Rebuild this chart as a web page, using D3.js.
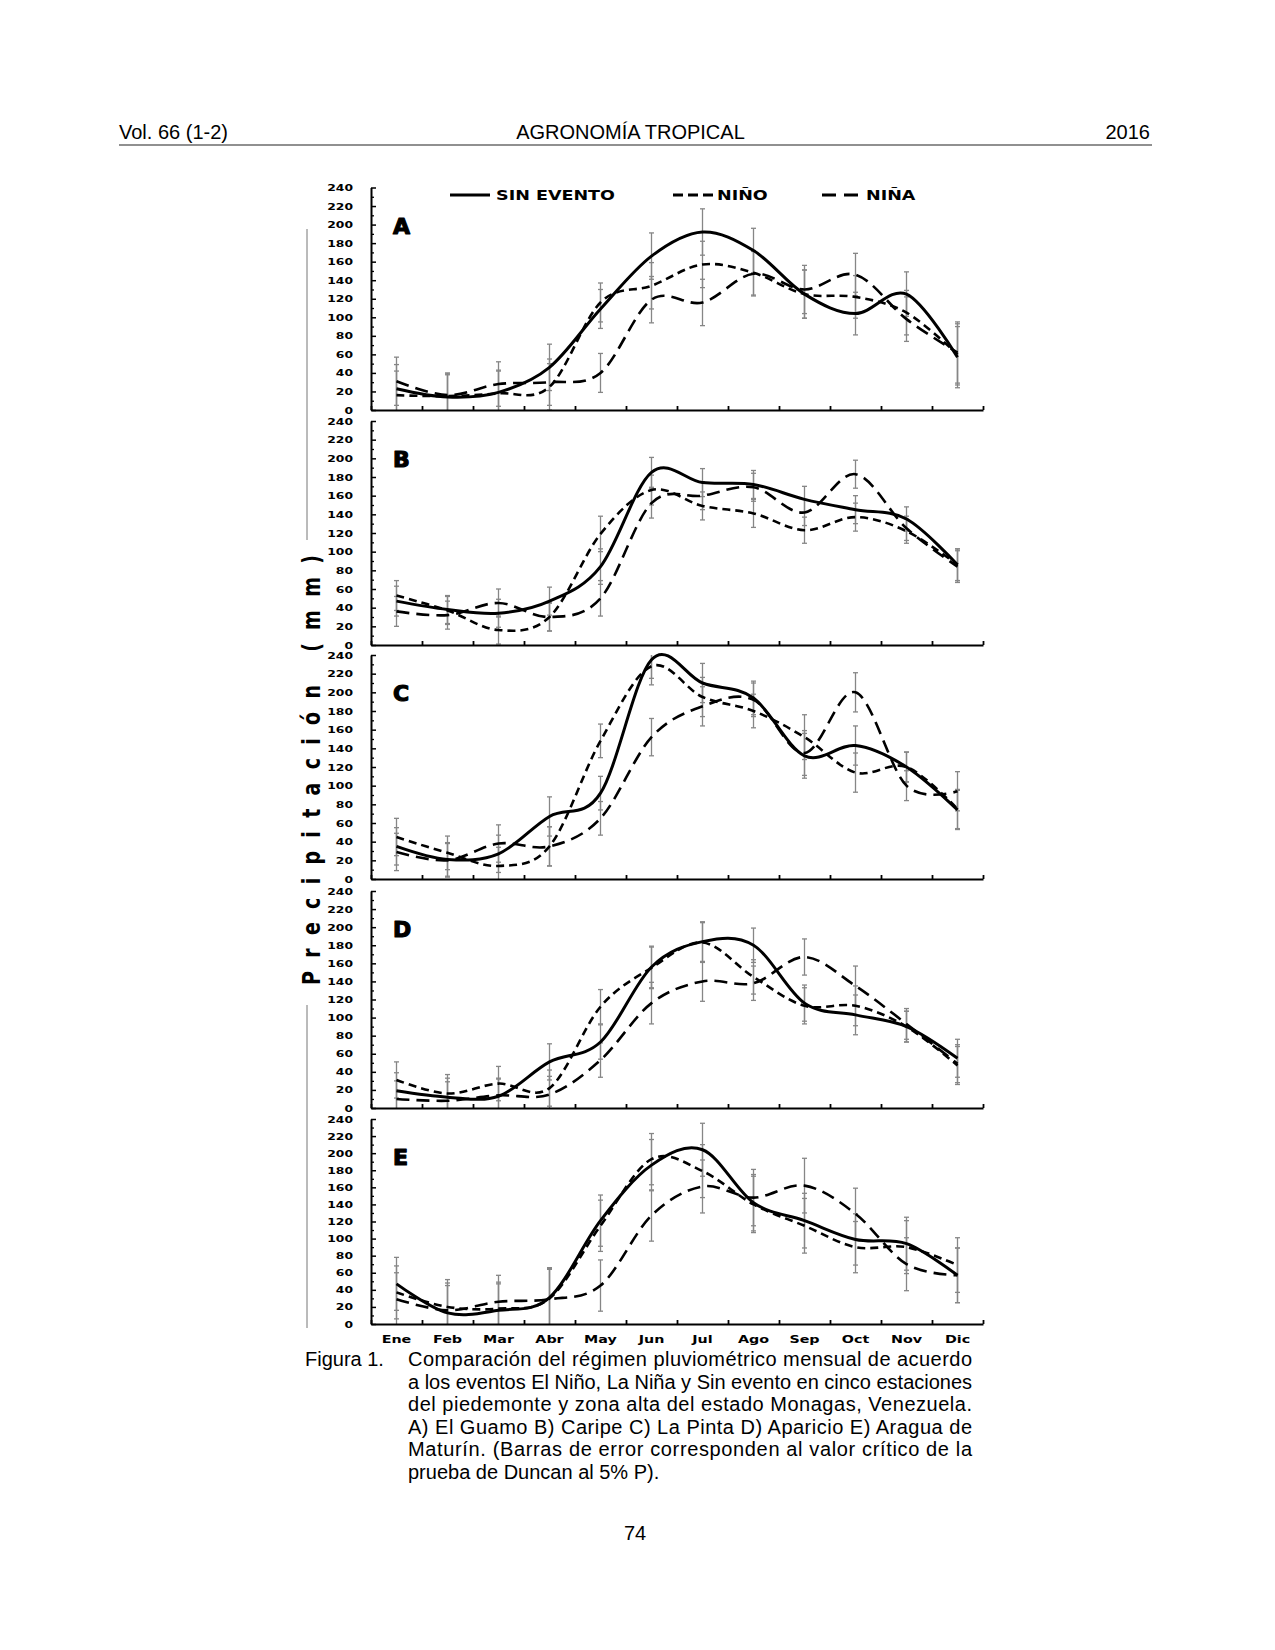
<!DOCTYPE html>
<html><head><meta charset="utf-8">
<script src="https://cdn.jsdelivr.net/npm/d3@7"></script>
<style>body{margin:0;background:#fff}</style>
</head><body>
<svg id="c" width="1275" height="1650" xmlns="http://www.w3.org/2000/svg"></svg>
<script>
// ---------- data ----------
const months = ["Ene","Feb","Mar","Abr","May","Jun","Jul","Ago","Sep","Oct","Nov","Dic"];
const yTicks = [0,20,40,60,80,100,120,140,160,180,200,220,240];
const legendLabels = ["SIN EVENTO","NIÑO","NIÑA"];
const panelLetters = ["A","B","C","D","E"];

const sinA  = [23, 14, 19, 46, 109, 166, 192, 172, 125, 104, 125, 57];
const ninoA = [16, 15, 18, 25, 116, 134, 157, 148, 125, 122, 105, 60];
const ninaA = [31, 16, 28, 30, 40, 119, 116, 147, 130, 146, 98, 62];
const errA  = [26, 24, 24, 25, 21, 25, 25, 24, 26, 23, 24, 33];

const sinB  = [47, 38, 34, 47, 84, 185, 174, 172, 156, 145, 135, 86];
const ninoB = [53, 37, 16, 30, 119, 166, 149, 141, 123, 137, 122, 86];
const ninaB = [36, 32, 45, 30, 50, 152, 160, 169, 142, 183, 125, 84];
const errB  = [16, 15, 15, 15, 19, 16, 15, 15, 14, 15, 13, 17];

const sinC  = [35, 21, 27, 67, 92, 235, 210, 194, 132, 143, 120, 74];
const ninoC = [45, 28, 14, 35, 148, 228, 195, 180, 152, 114, 120, 75];
const ninaC = [29, 20, 38, 35, 65, 152, 185, 192, 135, 200, 100, 94];
const errC  = [20, 18, 20, 21, 18, 20, 21, 18, 24, 21, 16, 21];

const sinD  = [19, 12, 13, 51, 73, 156, 184, 180, 116, 103, 90, 55];
const ninoD = [31, 16, 27, 22, 112, 155, 183, 145, 113, 113, 90, 47];
const ninaD = [10, 8, 14, 15, 53, 116, 140, 138, 167, 135, 93, 49];
const errD  = [20, 21, 19, 20, 19, 23, 22, 19, 20, 22, 17, 21];

const sinE  = [47, 13, 16, 31, 121, 186, 204, 142, 121, 99, 94, 57];
const ninoE = [37, 20, 18, 30, 115, 193, 179, 140, 115, 90, 90, 69];
const ninaE = [29, 16, 26, 29, 45, 127, 161, 148, 162, 129, 70, 57];
const errE  = [31, 32, 31, 35, 30, 30, 31, 33, 32, 30, 31, 32];

const headerLeft = "Vol. 66 (1-2)";
const headerCenter = "AGRONOMÍA TROPICAL";
const headerRight = "2016";
const yTitle = "Precipitación (mm)";
const captionLabel = "Figura 1.";
const captionLines = [
  "Comparación del régimen pluviométrico mensual de acuerdo",
  "a los eventos El Niño, La Niña y Sin evento en cinco estaciones",
  "del piedemonte y zona alta del estado Monagas, Venezuela.",
  "A) El Guamo B) Caripe C) La Pinta D) Aparicio E) Aragua de",
  "Maturín. (Barras de error corresponden al valor crítico de la",
  "prueba de Duncan al 5% P)."
];
const pageNumber = "74";

// ---------- layout ----------
const panels = [
  {letter: panelLetters[0], sin: sinA, nino: ninoA, nina: ninaA, err: errA},
  {letter: panelLetters[1], sin: sinB, nino: ninoB, nina: ninaB, err: errB},
  {letter: panelLetters[2], sin: sinC, nino: ninoC, nina: ninaC, err: errC},
  {letter: panelLetters[3], sin: sinD, nino: ninoD, nina: ninaD, err: errD},
  {letter: panelLetters[4], sin: sinE, nino: ninoE, nina: ninaE, err: errE}
];
const panelBox = [[187.5,410],[421,645],[655,879],[891,1108],[1119,1324]];
const X0 = 371, X1 = 983, SX = 1.3;
const FONT = "DejaVu Sans";
const seriesStyle = [
  {key:"nina", dash:"13,7", w:2.6},
  {key:"nino", dash:"8,5", w:2.6},
  {key:"sin",  dash:null,  w:3}
];

const svg = d3.select("#c");
svg.append("rect").attr("width",1275).attr("height",1650).attr("fill","#fff");

// header
const hf = "Liberation Sans, Arial, sans-serif";
svg.append("text").attr("x",119).attr("y",138.5).attr("font-family",hf).attr("font-size",20).text(headerLeft);
svg.append("text").attr("x",630.5).attr("y",138.5).attr("text-anchor","middle").attr("font-family",hf).attr("font-size",20).text(headerCenter);
svg.append("text").attr("x",1150).attr("y",138.5).attr("text-anchor","end").attr("font-family",hf).attr("font-size",20).text(headerRight);
svg.append("line").attr("x1",119).attr("x2",1152).attr("y1",145).attr("y2",145).attr("stroke","#222").attr("stroke-width",1.2);

const x = d3.scaleBand().domain(months).range([X0,X1]);
const xb = d3.scaleLinear().domain([0,12]).range([X0,X1]);
const cx = m => x(m) + x.bandwidth()/2;

panels.forEach((p,i) => {
  const [top,bot] = panelBox[i];
  const y = d3.scaleLinear().domain([0,240]).range([bot,top]);
  const g = svg.append("g");

  // error bars
  const eb = g.append("g").attr("stroke","#868686").attr("stroke-width",1.3);
  months.forEach((m,j) => {
    const e = p.err[j];
    [p.sin[j], p.nino[j], p.nina[j]].forEach(v => {
      const lo = v - e, hi = v + e;
      const xx = cx(m);
      eb.append("line").attr("x1",xx).attr("x2",xx)
        .attr("y1",y(Math.max(0,lo))).attr("y2",y(Math.min(240,hi)));
      if (hi <= 240) eb.append("line").attr("x1",xx-2.5).attr("x2",xx+2.5).attr("y1",y(hi)).attr("y2",y(hi));
      if (lo >= 0) eb.append("line").attr("x1",xx-2.5).attr("x2",xx+2.5).attr("y1",y(lo)).attr("y2",y(lo));
    });
  });

  // lines
  const line = d3.line().x((d,j) => cx(months[j])).y(d => y(d)).curve(d3.curveCardinal.tension(0));
  seriesStyle.forEach(s => {
    g.append("path").attr("d", line(p[s.key])).attr("fill","none").attr("stroke","#000")
      .attr("stroke-width", s.w).attr("stroke-dasharray", s.dash).attr("stroke-linejoin","round");
  });

  // y axis
  const ya = g.append("g").attr("transform",`translate(${X0},0)`)
    .call(d3.axisLeft(y).tickValues(yTicks).tickSizeInner(-5).tickSizeOuter(0).tickPadding(18));
  ya.select(".domain").attr("stroke-width",2);
  ya.selectAll(".tick line").attr("stroke-width",1.5);
  ya.selectAll("text").attr("x",-18/SX).attr("transform",`scale(${SX},1)`)
    .attr("font-family",FONT).attr("font-weight","bold").attr("font-size",9.5).attr("fill","#000");
  const ym = g.append("g").attr("transform",`translate(${X0},0)`)
    .call(d3.axisLeft(y).tickValues(d3.range(10,240,20)).tickSizeInner(-3).tickSizeOuter(0).tickFormat(""));
  ym.select(".domain").remove();
  ym.selectAll(".tick line").attr("stroke-width",1.3);

  // x axis
  const xa = g.append("g").attr("transform",`translate(0,${bot})`)
    .call(d3.axisBottom(xb).tickValues(d3.range(0,13)).tickSizeInner(-4).tickSizeOuter(0).tickFormat(""));
  xa.select(".domain").attr("stroke-width",2);
  xa.selectAll(".tick line").attr("stroke-width",1.8);

  if (i === panels.length - 1) {
    const xl = g.append("g").attr("transform",`translate(0,${bot})`)
      .call(d3.axisBottom(x).tickSize(0).tickPadding(11));
    xl.select(".domain").remove();
    xl.selectAll("text").attr("transform",`scale(${SX},1)`)
      .attr("font-family",FONT).attr("font-weight","bold").attr("font-size",11).attr("fill","#000");
  }

  // panel letter
  g.append("text").attr("x",393).attr("y",top+46).attr("font-family",FONT)
    .attr("font-weight",900).attr("font-size",22).attr("stroke","#000").attr("stroke-width",1.2)
    .attr("stroke-linejoin","round").text(p.letter);
});

// legend (inside panel A)
const lg = svg.append("g");
const legendItems = [
  {label: legendLabels[0], dash:null, x1:450, x2:490, tx:496},
  {label: legendLabels[1], dash:"10,5", x1:673, x2:713, tx:717},
  {label: legendLabels[2], dash:"14,8", x1:822, x2:860, tx:866}
];
legendItems.forEach(it => {
  lg.append("line").attr("x1",it.x1).attr("x2",it.x2).attr("y1",195).attr("y2",195)
    .attr("stroke","#000").attr("stroke-width",2.8).attr("stroke-dasharray",it.dash);
  lg.append("text").attr("transform",`translate(${it.tx},200) scale(${SX},1)`)
    .attr("font-family",FONT).attr("font-weight","bold").attr("font-size",13.5).text(it.label);
});

// y title + decorative lines
svg.append("text").attr("transform",`translate(320,770) scale(${SX},1) rotate(-90)`)
  .attr("text-anchor","middle").attr("font-family",FONT).attr("font-weight","bold")
  .attr("font-size",19).attr("textLength",430).attr("lengthAdjust","spacing").text(yTitle);
svg.append("line").attr("x1",307).attr("x2",307).attr("y1",229).attr("y2",540).attr("stroke","#777").attr("stroke-width",1);
svg.append("line").attr("x1",307).attr("x2",307).attr("y1",1005).attr("y2",1328).attr("stroke","#777").attr("stroke-width",1);

// caption
svg.append("text").attr("x",305).attr("y",1366).attr("font-family",hf).attr("font-size",20).text(captionLabel);
captionLines.forEach((t,k) => {
  const tx = svg.append("text").attr("x",408).attr("y",1366 + k*22.5)
    .attr("font-family",hf).attr("font-size",20).text(t);
  if (k < captionLines.length - 1) tx.attr("textLength",564).attr("lengthAdjust","spacing");
});

svg.append("text").attr("x",635).attr("y",1540).attr("text-anchor","middle")
  .attr("font-family",hf).attr("font-size",20).text(pageNumber);
</script>
</body></html>
